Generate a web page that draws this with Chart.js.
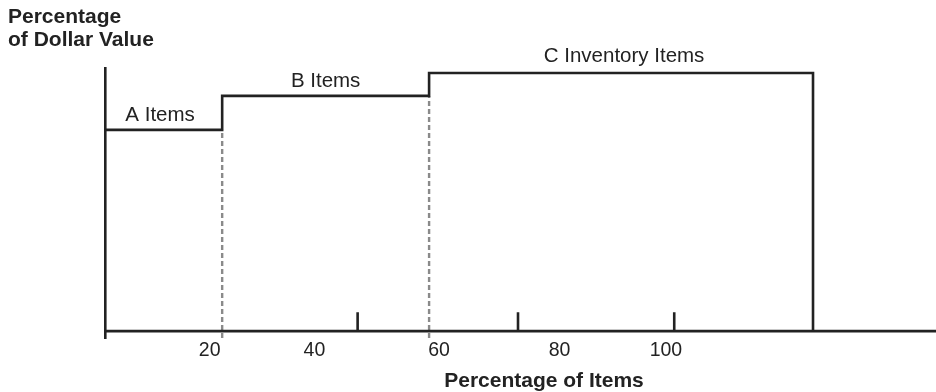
<!DOCTYPE html>
<html>
<head>
<meta charset="utf-8">
<script src="https://cdn.jsdelivr.net/npm/chart.js@4/dist/chart.umd.min.js"></script>
<style>
  html, body { margin: 0; padding: 0; background: #ffffff; }
  #wrap { width: 936px; height: 392px; position: relative; }
</style>
</head>
<body>
<div id="wrap"><canvas id="c" width="936" height="392"></canvas></div>
<script>
// ---- data ----
const classNames   = ['A Items', 'B Items', 'C Inventory Items'];
const classStart   = [0, 14.1, 39.0];      // percentage-of-items axis units
const classEnd     = [14.1, 39.0, 85.2];
const dollarLevel  = [76.5, 89.4, 98.1];   // percentage-of-dollar-value units
const xTickLabels  = ['20', '40', '60', '80', '100'];
const xTickLabelAt = [12.6, 25.2, 40.2, 54.7, 67.5];
const xTickMarkAt  = [30.4, 49.7, 68.5];
const tickMarkLen  = 7.2;
const yTitleLines  = ['Percentage', 'of Dollar Value'];
const xTitle       = 'Percentage of Items';

const Y_MIN = -2.6, Y_MAX = 100, X_MIN = 0, X_MAX = 100;
const INK = '#222222', GREY = '#8a8a8a';
const FONT = '"Liberation Sans", Arial, Helvetica, sans-serif';

// step outline built from the class arrays
const stepPts = [];
classNames.forEach((n, i) => {
  stepPts.push({x: classStart[i], y: dollarLevel[i]});
  stepPts.push({x: classEnd[i], y: dollarLevel[i]});
});
stepPts.push({x: classEnd[classEnd.length - 1], y: 0});

const datasets = [
  { data: stepPts, borderColor: INK, borderWidth: 2.6 }
];
// dashed class boundaries
for (let i = 1; i < classNames.length; i++) {
  datasets.push({
    data: [{x: classStart[i], y: Y_MIN}, {x: classStart[i], y: dollarLevel[i - 1]}],
    borderColor: GREY, borderWidth: 2.4, borderDash: [5, 3], order: 5
  });
}
// x axis line
datasets.push({ data: [{x: X_MIN, y: 0}, {x: X_MAX, y: 0}], borderColor: INK, borderWidth: 2.6 });
// upward tick marks
const tickPts = [];
xTickMarkAt.forEach(v => {
  tickPts.push({x: v, y: 0}, {x: v, y: tickMarkLen}, {x: v, y: null});
});
datasets.push({ data: tickPts, borderColor: INK, borderWidth: 2.6, spanGaps: false });

datasets.forEach(d => {
  d.pointRadius = 0; d.pointHoverRadius = 0; d.fill = false;
  d.tension = 0; d.clip = false; d.borderCapStyle = 'butt';
});

const textPlugin = {
  id: 'texts',
  afterDraw(chart, args, opts) {
    const {ctx, scales: {x, y}} = chart;
    ctx.save();
    ctx.fillStyle = INK;
    // region labels
    ctx.font = '20.5px ' + FONT;
    ctx.textAlign = 'center';
    ctx.textBaseline = 'alphabetic';
    classNames.forEach((n, i) => {
      const cx = (x.getPixelForValue(classStart[i]) + x.getPixelForValue(classEnd[i])) / 2 + opts.dx[i];
      const by = y.getPixelForValue(dollarLevel[i]) - opts.lift[i];
      ctx.fillText(n, cx, by);
    });
    // x-axis title
    ctx.font = 'bold 21px ' + FONT;
    ctx.fillText(xTitle, opts.xTitleX, opts.xTitleBase);
    // y-axis title (top-left)
    ctx.font = 'bold 21px ' + FONT;
    ctx.textAlign = 'left';
    yTitleLines.forEach((t, i) => ctx.fillText(t, 8, 22.7 + i * 23));
    ctx.restore();
  }
};

new Chart(document.getElementById('c'), {
  type: 'line',
  data: { datasets },
  plugins: [textPlugin],
  options: {
    responsive: false,
    animation: false,
    events: [],
    layout: { padding: { left: 105, right: 0, top: 68, bottom: 28.6 } },
    plugins: {
      legend: { display: false },
      tooltip: { enabled: false },
      texts: { dx: [-3.5, 0, 3], lift: [9, 9, 11.5], xTitleX: 544, xTitleBase: 386.5 }
    },
    scales: {
      x: {
        type: 'linear', position: 'bottom', min: X_MIN, max: X_MAX,
        grid: { display: false, drawTicks: false },
        border: { display: false },
        afterBuildTicks: (s) => { s.ticks = xTickLabelAt.map(v => ({ value: v })); },
        ticks: {
          autoSkip: false, maxRotation: 0, padding: 1, color: INK,
          font: { family: FONT, size: 19.5 },
          callback: (v, i) => xTickLabels[i]
        },
        title: { display: false }
      },
      y: {
        type: 'linear', position: 'left', min: Y_MIN, max: Y_MAX,
        grid: { display: false, drawTicks: false },
        border: { display: true, color: INK, width: 2.6 },
        ticks: { display: false }
      }
    }
  }
});
</script>
</body>
</html>
